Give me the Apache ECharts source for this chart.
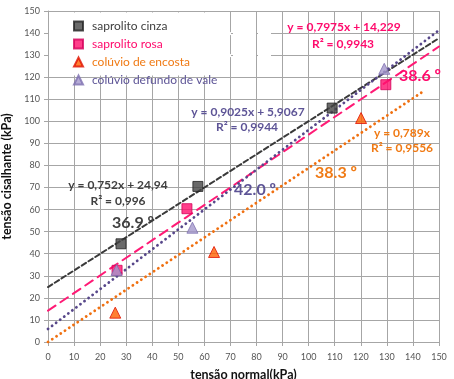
<!DOCTYPE html>
<html><head><meta charset="utf-8">
<script src="https://cdn.jsdelivr.net/npm/echarts@6/dist/echarts.min.js"></script>
<style>html,body{margin:0;padding:0;background:#fff}#c{width:454px;height:379px}</style>
</head><body><div id="c"></div>
<script>
// ---- data ----
const seriesNames = ['saprolito cinza', 'saprolito rosa', 'colúvio de encosta', 'colúvio defundo de vale'];
const cinzaPts   = [[28, 44.5], [57.5, 70.5], [109, 106]];
const rosaPts    = [[26.5, 32.5], [53.3, 60.4], [129.6, 116.6]];
const encostaPts = [[25.8, 13.3], [63.7, 40.8], [120.1, 101.5]];
const valePts    = [[26.3, 32.6], [55.4, 51.8], [129, 123.8]];
// trend lines (end points)
const cinzaTrend   = [[0, 24.9], [150, 137.7]];
const rosaTrend    = [[0, 14.2], [150, 133.9]];
const valeTrend    = [[0, 5.9], [150, 141.3]];
const encostaTrend = [[0, 0], [144, 113.6]];
const axisTicks = { min: 0, max: 150, step: 10 };
const labels = {
  cinzaEq: 'y = 0,752x + 24,94', cinzaR: 'R² = 0,996', cinzaAng: '36.9 º',
  valeEq: 'y = 0,9025x + 5,9067', valeR: 'R² = 0,9944', valeAng: '42.0 º',
  rosaEq: 'y = 0,7975x + 14,229', rosaR: 'R² = 0,9943', rosaAng: '38.6 º',
  encEq: 'y = 0,789x', encR: 'R² = 0,9556', encAng: '38.3 º'
};

const FONT = 'Lato, "Open Sans", sans-serif';
const C_GREY = '#404040', C_PINK = '#ff0a6c', C_ORANGE = '#f07a14', C_PURPLE = '#5d5496';

const chart = echarts.init(document.getElementById('c'), null, {renderer: 'canvas'});
const gridCol = '#a6a6a6';
function axis(name, gap, isY) {
  return {
    type: 'value', min: axisTicks.min, max: axisTicks.max, interval: axisTicks.step,
    name: name, nameLocation: 'middle', nameGap: gap,
    nameTextStyle: {fontFamily: FONT, fontWeight: 'bold', fontSize: 12.5, color: '#111'},
    axisLine: {show: true, lineStyle: {color: gridCol, width: 1}},
    axisTick: {show: true, length: 4, lineStyle: {color: gridCol}},
    axisLabel: {fontFamily: FONT, fontSize: 9, color: '#555', margin: isY ? 8 : 11},
    splitLine: {show: true, lineStyle: {color: gridCol, width: 1}}
  };
}
function trend(data, color, type, width) {
  return {type: 'line', data: data, symbol: 'none', silent: true, z: 2,
    lineStyle: {color: color, width: width, type: type, cap: 'round'}};
}
function txt(left, top, text, color, size, weight) {
  return {type: 'text', x: left, y: top, z: 10,
    style: {text: text, fill: color, font: (weight || 'normal') + ' ' + size + 'px ' + FONT, align: 'center', verticalAlign: 'middle'}};
}
const strips = [];
[[226, 231], [233, 256], [258, 271]].forEach(([a, b]) => {
  [33.6, 55.6].forEach(yy => strips.push({type: 'rect', z: 1, shape: {x: a, y: yy - 1.5, width: b - a, height: 3}, style: {fill: '#fff'}}));
});

chart.setOption({
  animation: false,
  grid: {left: 48, right: 15, top: 11, bottom: 37, containLabel: false, outerBoundsMode: 'none'},
  xAxis: axis('tensão normal(kPa)', 26, false),
  yAxis: axis('tensão cisalhante (kPa)', 26, true),
  legend: {
    orient: 'vertical', left: 68, top: 15, itemWidth: 9, itemHeight: 9, itemGap: 6,
    z: 5,
    textStyle: {fontFamily: FONT, fontSize: 12, padding: [0, 0, 0, 4]},
    data: [
      {name: seriesNames[0], textStyle: {color: C_GREY}},
      {name: seriesNames[1], textStyle: {color: C_PINK}},
      {name: seriesNames[2], textStyle: {color: C_ORANGE}},
      {name: seriesNames[3], textStyle: {color: C_PURPLE}}
    ]
  },
  graphic: [
    {type: 'rect', z: 1, shape: {x: 49, y: 12.5, width: 177, height: 63}, style: {fill: '#fff'}},
    ...strips,
    txt(118, 185, labels.cinzaEq, C_GREY, 12, 'bold'),
    txt(118, 201, labels.cinzaR, C_GREY, 12, 'bold'),
    txt(133, 223, labels.cinzaAng, C_GREY, 16, 'bold'),
    txt(248, 112, labels.valeEq, C_PURPLE, 12, 'bold'),
    txt(247, 127, labels.valeR, C_PURPLE, 12, 'bold'),
    txt(255, 190, labels.valeAng, C_PURPLE, 16, 'bold'),
    txt(344, 27, labels.rosaEq, C_PINK, 12, 'bold'),
    txt(343, 44, labels.rosaR, C_PINK, 12, 'bold'),
    txt(420, 76, labels.rosaAng, C_PINK, 16, 'bold'),
    txt(402, 133, labels.encEq, C_ORANGE, 12, 'bold'),
    txt(402, 148, labels.encR, C_ORANGE, 12, 'bold'),
    txt(336, 173, labels.encAng, C_ORANGE, 16, 'bold')
  ],
  series: [
    trend(cinzaTrend, '#3a3a3a', [5, 3], 2),
    trend(rosaTrend, '#ff1a75', [9, 6], 2),
    trend(valeTrend, '#57478a', [0.1, 5], 2.8),
    trend(encostaTrend, '#f07010', [0.1, 5], 2.8),
    {name: seriesNames[0], type: 'scatter', data: cinzaPts, symbol: 'rect', symbolSize: 10, z: 3,
      itemStyle: {color: '#454545', borderColor: '#222', borderWidth: 1}},
    {name: seriesNames[1], type: 'scatter', data: rosaPts, symbol: 'rect', symbolSize: 10, z: 3,
      itemStyle: {color: '#ff0f6e', borderColor: '#d4005a', borderWidth: 1}},
    {name: seriesNames[2], type: 'scatter', data: encostaPts, symbol: 'triangle', symbolSize: 11, z: 3,
      itemStyle: {color: '#ff6000', borderColor: '#e01000', borderWidth: 1}},
    {name: seriesNames[3], type: 'scatter', data: valePts, symbol: 'triangle', symbolSize: 11, z: 3,
      itemStyle: {color: '#a497cc', borderColor: '#7e70b0', borderWidth: 1}}
  ]
});
</script></body></html>
